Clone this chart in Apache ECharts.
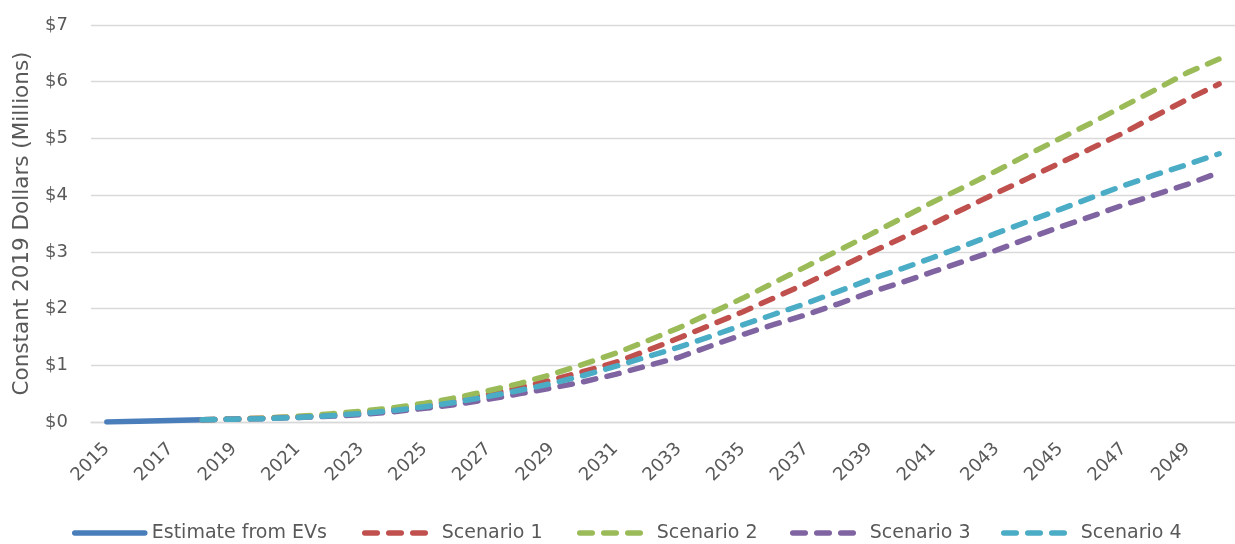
<!DOCTYPE html>
<html>
<head>
<meta charset="utf-8">
<script src="https://cdn.jsdelivr.net/npm/echarts@6/dist/echarts.min.js"></script>
<style>
html,body{margin:0;padding:0;background:#fff;}
#chart{width:1235px;height:544px;}
</style>
</head>
<body>
<div id="chart"></div>
<script>
const years = ['2015','2016','2017','2018','2019','2020','2021','2022','2023','2024','2025','2026',
  '2027','2028','2029','2030','2031','2032','2033','2034','2035','2036','2037','2038',
  '2039','2040','2041','2042','2043','2044','2045','2046','2047','2048','2049','2050'];

const yTicks = ['$0','$1','$2','$3','$4','$5','$6','$7'];

const estimateFromEVs = [0.00, 0.012, 0.025, 0.04];

const scenario1 = [null, null, null,
  0.04, 0.05, 0.07, 0.09, 0.12, 0.17, 0.22, 0.29, 0.38, 0.49, 0.61, 0.74, 0.89,
  1.05, 1.26, 1.48, 1.71, 1.94, 2.19, 2.44, 2.71, 2.98, 3.24, 3.50, 3.77, 4.04,
  4.30, 4.57, 4.83, 5.10, 5.40, 5.69, 5.96];

const scenario2 = [null, null, null,
  0.04, 0.05, 0.07, 0.10, 0.14, 0.19, 0.25, 0.33, 0.43, 0.55, 0.68, 0.84, 1.02,
  1.21, 1.43, 1.66, 1.92, 2.18, 2.46, 2.74, 3.02, 3.30, 3.59, 3.88, 4.15, 4.43,
  4.72, 5.00, 5.28, 5.57, 5.86, 6.16, 6.40];

const scenario3 = [null, null, null,
  0.04, 0.05, 0.06, 0.08, 0.10, 0.13, 0.18, 0.24, 0.31, 0.40, 0.50, 0.60, 0.71,
  0.84, 0.99, 1.14, 1.34, 1.54, 1.72, 1.89, 2.08, 2.28, 2.46, 2.65, 2.84, 3.03,
  3.24, 3.44, 3.63, 3.83, 4.01, 4.19, 4.40];

const scenario4 = [null, null, null,
  0.04, 0.05, 0.06, 0.08, 0.11, 0.15, 0.20, 0.27, 0.35, 0.45, 0.56, 0.68, 0.82,
  0.98, 1.15, 1.32, 1.51, 1.71, 1.90, 2.09, 2.30, 2.51, 2.70, 2.90, 3.11, 3.33,
  3.54, 3.75, 3.96, 4.17, 4.36, 4.54, 4.73];

const seriesNames = ['Estimate from EVs','Scenario 1','Scenario 2','Scenario 3','Scenario 4'];
const seriesColors = ['#4A7EBB','#C0504D','#9BBB59','#8064A2','#4BACC6'];
const seriesData = [estimateFromEVs, scenario1, scenario2, scenario3, scenario4];

const FONT = 'DejaVu Sans';
const TEXT = '#595959';
const GRID = '#D9D9D9';
const LW = 5.5;
const DASH = [12.5, 11.5];

const legendLefts = [72, 362, 577, 790, 1001];

const chart = echarts.init(document.getElementById('chart'), null, {renderer:'canvas'});

const series = seriesNames.map((name, i) => ({
  name: name,
  type: 'line',
  data: seriesData[i],
  showSymbol: false,
  symbol: 'none',
  connectNulls: false,
  z: 2 + i,
  lineStyle: {
    color: seriesColors[i],
    width: LW,
    type: i === 0 ? 'solid' : DASH,
    cap: 'round',
    join: 'round'
  },
  itemStyle: {color: seriesColors[i]},
  emphasis: {disabled: true},
  animation: false
}));

const legends = seriesNames.map((name, i) => ({
  data: [name],
  left: legendLefts[i],
  top: 523,
  padding: 0,
  orient: 'horizontal',
  itemWidth: 70,
  itemHeight: 20,
  itemGap: 0,
  selectedMode: false,
  itemStyle: {color: 'rgba(0,0,0,0)', borderColor: 'rgba(0,0,0,0)', borderWidth: 0, opacity: 0},
  lineStyle: {color: seriesColors[i], width: LW, type: i === 0 ? 'solid' : DASH, cap: 'round', opacity: 1},
  textStyle: {
    fontFamily: FONT,
    fontSize: 19,
    color: TEXT,
    lineHeight: 20,
    padding: [0, 0, 0, 2]
  }
}));

chart.setOption({
  animation: false,
  backgroundColor: '#fff',
  textStyle: {fontFamily: FONT},
  grid: {left: 91, right: 0, top: 25, bottom: 122, containLabel: false},
  legend: legends,
  xAxis: {
    type: 'category',
    data: years,
    boundaryGap: true,
    axisLine: {show: true, lineStyle: {color: GRID, width: 1.3}},
    axisTick: {show: false},
    splitLine: {show: false},
    axisLabel: {
      interval: 1,
      rotate: 45,
      margin: 24,
      fontFamily: FONT,
      fontSize: 18,
      color: TEXT
    }
  },
  yAxis: {
    type: 'value',
    min: 0,
    max: 7,
    interval: 1,
    name: 'Constant 2019 Dollars (Millions)',
    nameLocation: 'middle',
    nameGap: 58,
    nameTextStyle: {fontFamily: FONT, fontSize: 21.5, color: TEXT},
    axisLine: {show: false},
    axisTick: {show: false},
    splitLine: {show: true, lineStyle: {color: GRID, width: 1.3}},
    axisLabel: {
      margin: 23,
      fontFamily: FONT,
      fontSize: 18,
      color: TEXT,
      formatter: (v) => yTicks[Math.round(v)]
    }
  },
  series: series
});
</script>
</body>
</html>
